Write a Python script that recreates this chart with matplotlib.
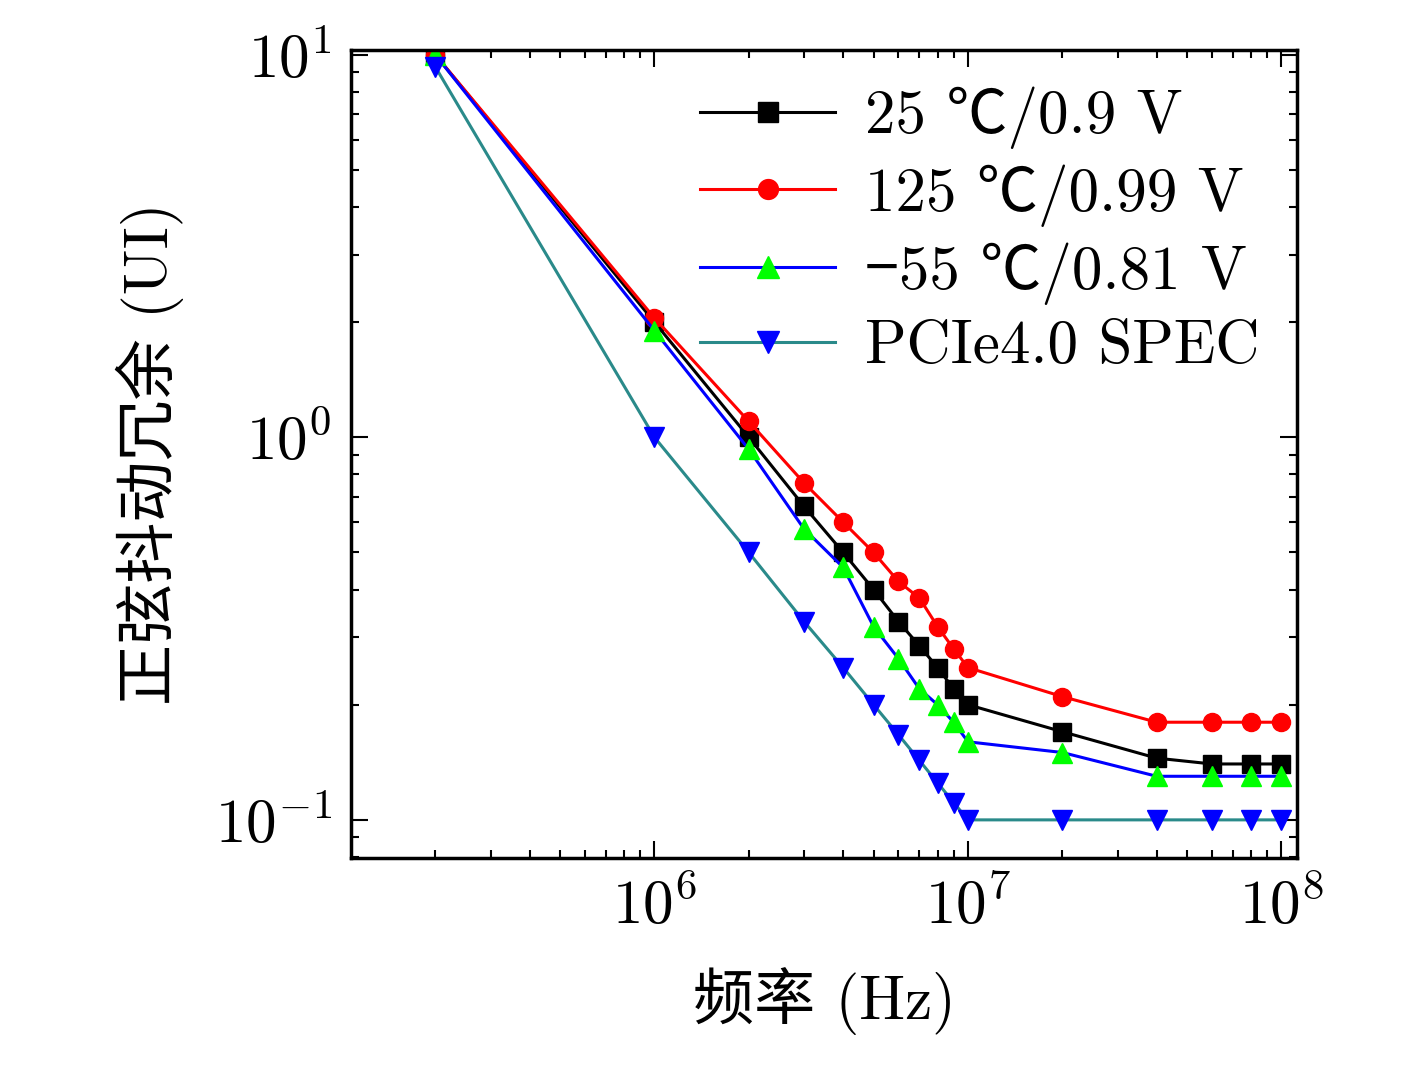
import matplotlib
matplotlib.use('Agg')
import matplotlib.pyplot as plt

plt.rcParams['font.family'] = ['cmr10', 'Noto Sans CJK SC', 'DejaVu Sans']
plt.rcParams['mathtext.fontset'] = 'cm'
plt.rcParams['axes.formatter.use_mathtext'] = True
plt.rcParams['axes.unicode_minus'] = False

freq = [2e5, 1e6, 2e6, 3e6, 4e6, 5e6, 6e6, 7e6, 8e6, 9e6, 1e7, 2e7, 4e7, 6e7, 8e7, 1e8]
t25 = [10, 2.0, 1.0, 0.66, 0.50, 0.40, 0.33, 0.285, 0.25, 0.22, 0.20, 0.17, 0.145, 0.14, 0.14, 0.14]
t125 = [10, 2.05, 1.1, 0.76, 0.60, 0.50, 0.42, 0.38, 0.32, 0.28, 0.25, 0.21, 0.18, 0.18, 0.18, 0.18]
tm55 = [10, 1.9, 0.93, 0.576, 0.457, 0.32, 0.264, 0.22, 0.20, 0.18, 0.16, 0.15, 0.13, 0.13, 0.13, 0.13]
spec = [9.3, 1.0, 0.50, 0.33, 0.25, 0.20, 0.167, 0.143, 0.125, 0.111, 0.10, 0.10, 0.10, 0.10, 0.10, 0.10]

labels = ['25 ℃/0.9 V', '125 ℃/0.99 V', '−55 ℃/0.81 V', 'PCIe4.0 SPEC']

fig = plt.figure(figsize=(14.17, 10.84), dpi=100)
ax = fig.add_axes([0.248, 0.2085, 0.667, 0.7455])

ms = 13
ax.plot(freq, t25, '-s', color='black', lw=2.2, ms=ms, label=labels[0])
ax.plot(freq, t125, '-o', color='red', lw=2.2, ms=ms, label=labels[1])
ax.plot(freq, tm55, '-^', color='blue', mfc='#00ff00', mec='#00ff00', lw=2.2, ms=ms+2, label=labels[2])
ax.plot(freq, spec, '-v', color='#2a8a8a', mfc='blue', mec='blue', lw=2.2, ms=ms+2, label=labels[3])

ax.set_xscale('log')
ax.set_yscale('log')
ax.set_xlim(1.08e5, 1.117e8)
ax.set_ylim(0.0795, 10.3)

ax.tick_params(which='both', direction='in', top=True, right=True, labelsize=44, width=1.5)
ax.tick_params(which='major', length=12, pad=14)
ax.tick_params(which='minor', length=6)
for s in ax.spines.values():
    s.set_linewidth(2.5)

ax.set_xlabel('频率 (Hz)', fontsize=44, labelpad=22)
ax.set_ylabel('正弦抖动冗余 (UI)', fontsize=44, labelpad=22)

ax.legend(loc='upper right', frameon=False, fontsize=44, handlelength=2.2,
          labelspacing=0.25, borderaxespad=0.2, handletextpad=0.5, markerscale=1.1)

fig.savefig('out.png', dpi=100)
